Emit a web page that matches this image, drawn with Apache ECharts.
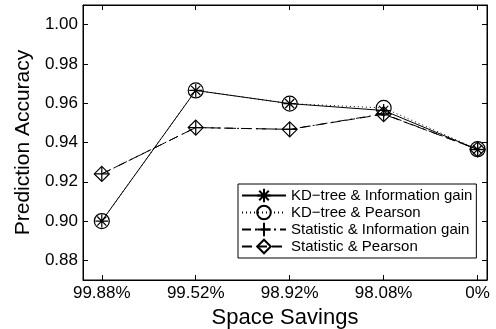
<!DOCTYPE html>
<html>
<head>
<meta charset="utf-8">
<script src="https://cdn.jsdelivr.net/npm/echarts@6/dist/echarts.min.js"></script>
<style>
  html, body { margin: 0; padding: 0; background: #fff; }
  #chart { width: 496px; height: 329px; }
</style>
</head>
<body>
<div id="chart"></div>
<script>
// Space-savings levels along the x axis
const categories = ['99.88%', '99.52%', '98.92%', '98.08%', '0%'];
const yTicks = [0.88, 0.90, 0.92, 0.94, 0.96, 0.98, 1.00];

// Prediction accuracy per method
const kdInfoGain = [0.900, 0.9665, 0.9598, 0.9563, 0.9364];
const kdPearson = [0.900, 0.9665, 0.9598, 0.9576, 0.9366];
const statInfoGain = [0.9240, 0.9476, 0.9467, 0.9546, 0.9365];
const statPearson = [0.9240, 0.9476, 0.9467, 0.9544, 0.9365];

const FONT = '"Liberation Sans", Arial, Helvetica, sans-serif';
const xIdx = categories.map((_, i) => i);
const pts = arr => arr.map((v, i) => [i, v]);

const asterisk = 'path://M0,-1L0,1M-1,0L1,0M-0.707,-0.707L0.707,0.707M-0.707,0.707L0.707,-0.707';
const plus = 'path://M0,-1L0,1M-1,0L1,0';

function mkSeries(name, arr, symbol, size, dash) {
  return {
    name: name,
    type: 'line',
    data: pts(arr),
    symbol: symbol,
    symbolSize: size,
    color: '#000',
    lineStyle: { color: '#000', width: 1, type: dash },
    itemStyle: { color: 'rgba(0,0,0,0)', borderColor: '#000', borderWidth: 1.2 },
    emphasis: { disabled: true },
    animation: false,
    z: 3
  };
}

const chart = echarts.init(document.getElementById('chart'), null, { renderer: 'canvas' });

const tickStyle = { inside: true, length: 5, lineStyle: { color: '#000', width: 1 } };

chart.setOption({
  backgroundColor: '#fff',
  animation: false,
  grid: {
    left: 83, right: 9, top: 5, bottom: 49,
    containLabel: false, outerBoundsMode: 'none',
    show: true, borderColor: '#000', borderWidth: 1, backgroundColor: '#fff'
  },
  xAxis: [{
    type: 'value', min: -0.2, max: 4.1,
    name: 'Space Savings', nameLocation: 'middle', nameGap: 18,
    nameTextStyle: { fontFamily: FONT, fontSize: 22, color: '#000' },
    axisLine: { show: true, onZero: false, lineStyle: { color: '#000' } },
    axisTick: Object.assign({ customValues: xIdx }, tickStyle),
    axisLabel: { customValues: xIdx, fontFamily: FONT, fontSize: 17, color: '#000', margin: 5,
      formatter: v => categories[Math.round(v)] },
    splitLine: { show: false }
  }, {
    type: 'value', min: -0.2, max: 4.1, position: 'top',
    axisLine: { show: true, onZero: false, lineStyle: { color: '#000' } },
    axisTick: Object.assign({ customValues: xIdx }, tickStyle),
    axisLabel: { show: false },
    splitLine: { show: false }
  }],
  yAxis: [{
    type: 'value', min: 0.87, max: 1.01,
    name: 'Prediction Accuracy', nameLocation: 'middle', nameGap: 48,
    nameTextStyle: { fontFamily: FONT, fontSize: 21, color: '#000' },
    axisLine: { show: true, onZero: false, lineStyle: { color: '#000' } },
    axisTick: Object.assign({ customValues: yTicks }, tickStyle),
    axisLabel: { customValues: yTicks, fontFamily: FONT, fontSize: 17, color: '#000', margin: 5,
      formatter: v => v.toFixed(2) },
    splitLine: { show: false }
  }, {
    type: 'value', min: 0.87, max: 1.01, position: 'right',
    axisLine: { show: true, onZero: false, lineStyle: { color: '#000' } },
    axisTick: Object.assign({ customValues: yTicks }, tickStyle),
    axisLabel: { show: false },
    splitLine: { show: false }
  }],
  legend: {
    orient: 'vertical',
    left: 238, top: 184,
    padding: [3, 4, 3, 3],
    itemGap: 0,
    itemWidth: 44,
    itemHeight: 17,
    backgroundColor: '#fff',
    borderColor: '#000',
    borderWidth: 1,
    textStyle: { fontFamily: FONT, fontSize: 15, color: '#000', lineHeight: 17, padding: [0, 0, 0, 0] },
    selectedMode: false,
    data: ['KD\u2212tree & Information gain', 'KD\u2212tree & Pearson',
           'Statistic & Information gain', 'Statistic & Pearson']
  },
  series: [
    mkSeries('KD\u2212tree & Information gain', kdInfoGain, asterisk, 13, 'solid'),
    mkSeries('KD\u2212tree & Pearson', kdPearson, 'circle', 15, [1, 3]),
    mkSeries('Statistic & Information gain', statInfoGain, plus, 14, [9, 4, 2, 4]),
    mkSeries('Statistic & Pearson', statPearson, 'diamond', 15, [10, 5])
  ]
});
</script>
</body>
</html>
